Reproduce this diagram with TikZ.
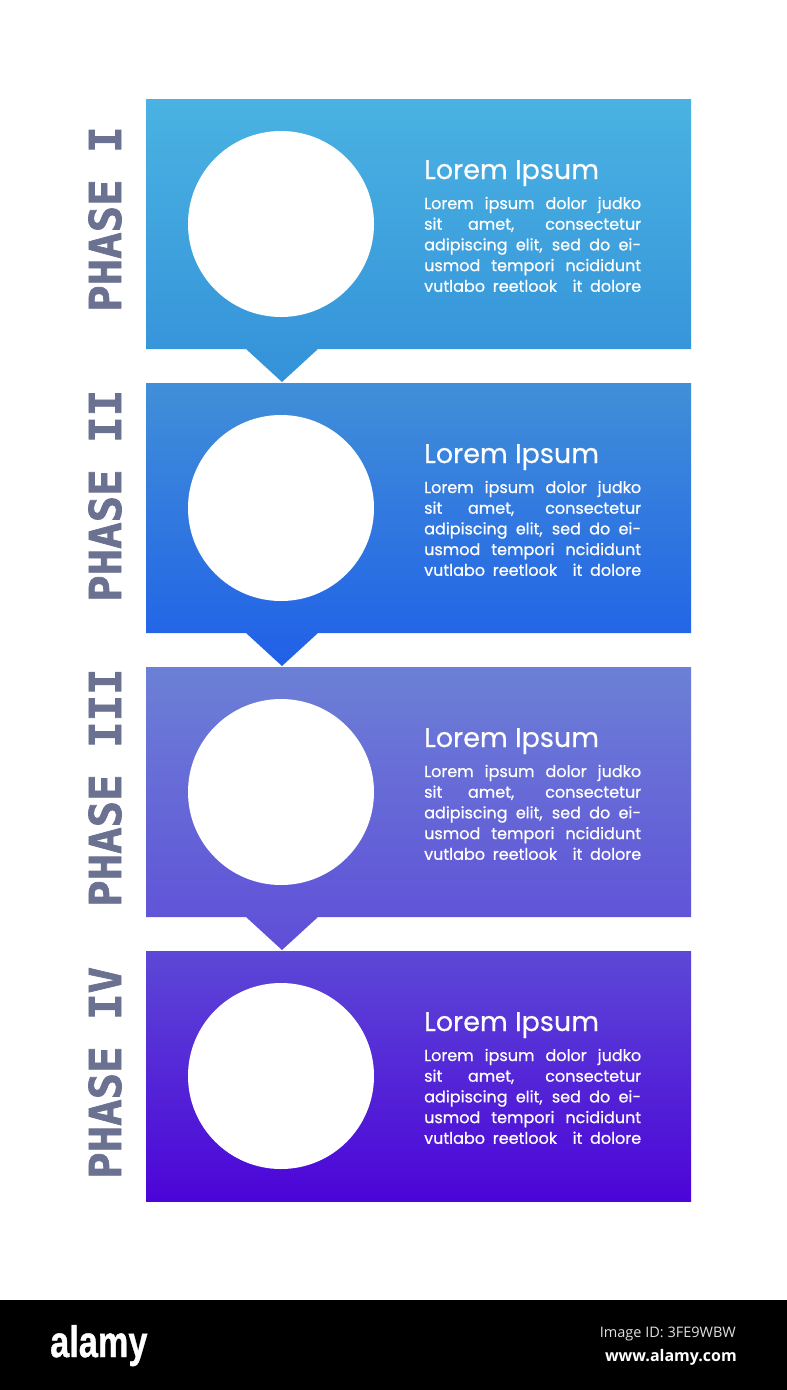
\documentclass[tikz,border=0pt]{standalone}
\usepackage{fontspec}
\newfontfamily\phasefont[BoldFeatures={FakeBold=1.6}]{DejaVu Sans Mono}
\newfontfamily\popfont[FakeBold=0.3]{Poppins}
\newfontfamily\bodyfont[FakeBold=0.6]{Poppins}
\newfontfamily\osfont{Open Sans}
\newfontfamily\logofont[BoldFeatures={FakeBold=1}]{Liberation Sans}
\definecolor{top1}{RGB}{74,178,226}
\definecolor{bot1}{RGB}{52,146,217}
\definecolor{top2}{RGB}{65,143,216}
\definecolor{bot2}{RGB}{32,96,232}
\definecolor{top3}{RGB}{108,128,214}
\definecolor{bot3}{RGB}{95,78,216}
\definecolor{top4}{RGB}{92,72,214}
\definecolor{bot4}{RGB}{76,4,216}
\definecolor{phasegray}{RGB}{107,113,145}
\tikzset{
  titletext/.style={anchor=base west, inner sep=0pt, text=white, font=\popfont\fontsize{27}{27}\selectfont},
  bodytext/.style={anchor=base west, inner sep=0pt, text=white, font=\bodyfont\fontsize{16}{16}\selectfont},
  phaselabel/.style={anchor=base west, inner sep=0pt, rotate=90, text=phasegray, font=\phasefont\bfseries\fontsize{44}{44}\selectfont},
  whitecirc/.style={circle, fill=white, minimum size=186pt, inner sep=0pt},
  bartext/.style={anchor=base east, inner sep=0pt, text=white}
}
\begin{document}
\begin{tikzpicture}[x=1pt,y=-1pt]
\useasboundingbox (0,0) rectangle (787,1390);
\fill[white] (0,0) rectangle (787,1390);
% panels with pointer
\foreach \i/\t in {1/99,2/383,3/667}{
  \shade[top color=top\i, bottom color=bot\i]
    (146,\t) -- (691,\t) -- (691,\t+250) -- (318,\t+250) -- (282,\t+283)
    -- (246,\t+250) -- (146,\t+250) -- cycle;
}
\shade[top color=top4, bottom color=bot4] (146,951) rectangle (691,1201);
% contents
\foreach \i/\t in {1/99,2/383,3/667,4/951}{
  \node[whitecirc] (circ\i) at (281,\t+125) {};
  \node[titletext] (title\i) at (424,\t+80) {Lorem Ipsum};
  \node[bodytext] (line\i a) at (424,\t+110) {\makebox[217pt][s]{Lorem ipsum dolor judko}};
  \node[bodytext] (line\i b) at (424,\t+130.7) {\makebox[217pt][s]{sit amet, consectetur}};
  \node[bodytext] (line\i c) at (424,\t+151.4) {\makebox[217pt][s]{adipiscing elit, sed do ei-}};
  \node[bodytext] (line\i d) at (424,\t+172.1) {\makebox[217pt][s]{usmod tempori ncididunt}};
  \node[bodytext] (line\i e) at (424,\t+192.8) {\makebox[217pt][s]{vutlabo reetlook \ it dolore}};
}
% phase labels
\node[phaselabel] (ph1) at (121,312) {PHASE I};
\node[phaselabel] (ph2) at (121,602) {PHASE II};
\node[phaselabel] (ph3) at (121,907) {PHASE III};
\node[phaselabel] (ph4) at (121,1179) {PHASE IV};
% bottom bar
\fill[black] (0,1300) rectangle (787,1390);
\node[anchor=base west, inner sep=0pt, text=white] (logo) at (50,1357)
  {\logofont\bfseries\fontsize{44}{44}\selectfont\scalebox{0.78}[1]{alamy}};
\node[bartext, text=white!88!black] (imgid) at (736,1337) {\osfont\fontsize{14.5}{14.5}\selectfont Image ID: 3FE9WBW};
\node[bartext] (www) at (737,1361) {\osfont\bfseries\fontsize{16}{16}\selectfont www.alamy.com};
\end{tikzpicture}
\end{document}
